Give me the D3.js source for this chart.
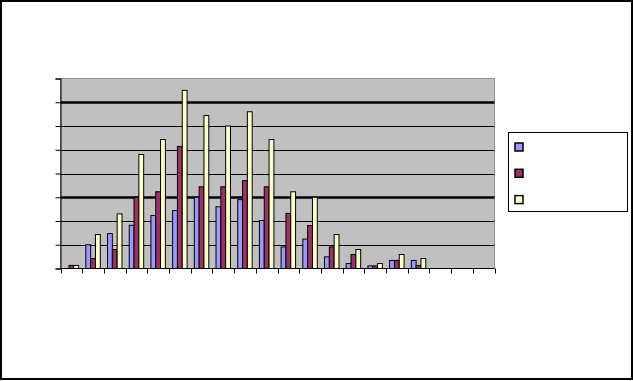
<!DOCTYPE html>
<html><head><meta charset="utf-8">
<script src="https://cdn.jsdelivr.net/npm/d3@7"></script>
<style>html,body{margin:0;padding:0;background:#fff;}svg{display:block;}</style>
</head><body>
<svg id="c" width="633" height="381"></svg>
<script>
const categories = d3.range(1, 21).map(String);
const seriesA = [0, 10, 14.7, 18.2, 22.3, 24.4, 30, 26, 29, 20.2, 9.1, 12.4, 4.9, 2.1, 1.1, 3.4, 3.4, null, null, null];
const seriesB = [1.3, 4.2, 8, 30, 32.3, 51.4, 34.4, 34.4, 37, 34.4, 23.2, 18.1, 9.1, 5.9, 1.1, 3.4, 1.3, null, null, null];
const seriesC = [1.3, 14.3, 23, 48, 54.3, 75, 64.4, 60, 66, 54.3, 32.3, 30, 14.3, 8, 2.1, 5.9, 4.2, null, null, null];
const seriesNames = ["A", "B", "C"];
const colors = ["#9999FF", "#993366", "#FFFFCC"];
const yTicks = [0, 10, 20, 30, 40, 50, 60, 70, 80];
const heavyTicks = [30, 70];

const svg = d3.select("#c");
const L = 60.5, R = 494.5, T = 78.5, B = 268.5;

svg.append("rect").attr("x",1).attr("y",1).attr("width",631).attr("height",378)
  .attr("fill","#fff").attr("stroke","#000").attr("stroke-width",2);

const x = d3.scaleBand().domain(categories).range([L, R]).paddingInner(0).paddingOuter(0);
const y = d3.scaleLinear().domain([0, 80]).range([B, T]);

svg.append("rect").attr("x",L).attr("y",T).attr("width",R-L).attr("height",B-T)
  .attr("fill","#C0C0C0").attr("stroke","#909090").attr("stroke-width",1);

// gridlines
svg.append("g").selectAll("line").data(yTicks.filter(d=>d>0 && d<80)).join("line")
  .attr("x1",L).attr("x2",R)
  .attr("y1",d=>Math.round(y(d))+0.5).attr("y2",d=>Math.round(y(d))+0.5)
  .attr("stroke","#000").attr("stroke-width",d=>heavyTicks.includes(d)?2.5:1);

// bars
const inner = d3.scaleBand().domain(seriesNames).range([0, x.bandwidth()]).paddingInner(0).paddingOuter(0.75);
const allSeries = [seriesA, seriesB, seriesC];
const data = [];
categories.forEach((c,i)=>allSeries.forEach((s,j)=>{ if(s[i]!=null && s[i]>0) data.push({c, s:seriesNames[j], v:s[i], col:colors[j]}); }));
svg.append("g").selectAll("rect").data(data).join("rect")
  .attr("x",d=>x(d.c)+inner(d.s))
  .attr("width",inner.bandwidth())
  .attr("y",d=>y(d.v))
  .attr("height",d=>y(0)-y(d.v))
  .attr("fill",d=>d.col).attr("stroke","#000").attr("stroke-width",1);

// y axis
const yAxis = d3.axisLeft(y).tickValues(yTicks).tickSize(5).tickFormat("");
const gy = svg.append("g").attr("transform",`translate(${L},0)`).call(yAxis);
gy.selectAll("path,line").attr("stroke","#000");

// x axis
const xAxis = d3.axisBottom(x).tickSize(0).tickFormat("");
const gx = svg.append("g").attr("transform",`translate(0,${B})`).call(xAxis);
gx.select("path").attr("stroke","#000").attr("d",`M${L},0H${R}`);
const bounds = categories.map(c=>x(c)).concat([R]);
gx.selectAll("line.b").data(bounds).join("line").attr("class","b")
  .attr("x1",d=>Math.round(d)+0.5).attr("x2",d=>Math.round(d)+0.5).attr("y1",0).attr("y2",5)
  .attr("stroke","#000");

// legend
const lg = svg.append("g");
lg.append("rect").attr("x",508.5).attr("y",132.5).attr("width",119).attr("height",79)
  .attr("fill","#fff").attr("stroke","#000").attr("stroke-width",1);
lg.selectAll("rect.sw").data(seriesNames).join("rect").attr("class","sw")
  .attr("x",515).attr("y",(d,i)=>143+i*26.3).attr("width",8).attr("height",8)
  .attr("fill",(d,i)=>colors[i]).attr("stroke","#000").attr("stroke-width",1.5);
</script>
</body></html>
